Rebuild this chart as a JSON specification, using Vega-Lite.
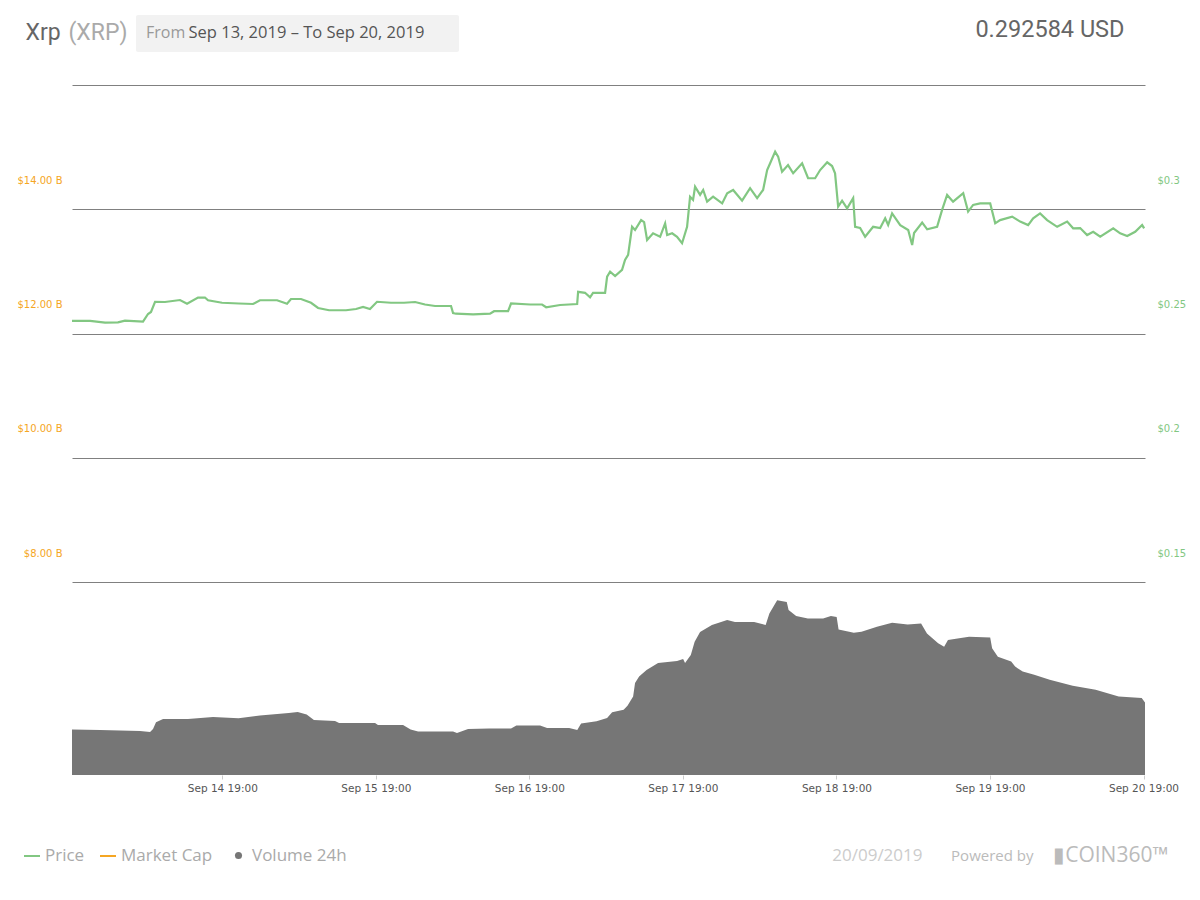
{
  "$schema": "https://vega.github.io/schema/vega-lite/v6.json",
  "width": 1073,
  "height": 725,
  "autosize": "none",
  "padding": {"left": 72, "top": 50, "right": 55, "bottom": 125},
  "background": "white",
  "config": {"view": {"stroke": null}, "font": "Open Sans"},
  "datasets": {
    "price": [
      {"t": "2019-09-13T19:30:00Z", "price": 0.2434},
      {"t": "2019-09-13T22:20:00Z", "price": 0.2434},
      {"t": "2019-09-14T00:40:00Z", "price": 0.2427},
      {"t": "2019-09-14T02:41:00Z", "price": 0.2428},
      {"t": "2019-09-14T03:47:00Z", "price": 0.2435},
      {"t": "2019-09-14T06:36:00Z", "price": 0.2431},
      {"t": "2019-09-14T07:23:00Z", "price": 0.2462},
      {"t": "2019-09-14T07:51:00Z", "price": 0.2470},
      {"t": "2019-09-14T08:29:00Z", "price": 0.2511},
      {"t": "2019-09-14T10:02:00Z", "price": 0.2510},
      {"t": "2019-09-14T12:23:00Z", "price": 0.2518},
      {"t": "2019-09-14T13:29:00Z", "price": 0.2503},
      {"t": "2019-09-14T15:12:00Z", "price": 0.2528},
      {"t": "2019-09-14T16:17:00Z", "price": 0.2528},
      {"t": "2019-09-14T16:46:00Z", "price": 0.2517},
      {"t": "2019-09-14T18:57:00Z", "price": 0.2507},
      {"t": "2019-09-14T21:36:00Z", "price": 0.2504},
      {"t": "2019-09-14T23:48:00Z", "price": 0.2502},
      {"t": "2019-09-15T00:53:00Z", "price": 0.2517},
      {"t": "2019-09-15T03:33:00Z", "price": 0.2517},
      {"t": "2019-09-15T05:07:00Z", "price": 0.2503},
      {"t": "2019-09-15T05:44:00Z", "price": 0.2522},
      {"t": "2019-09-15T07:18:00Z", "price": 0.2522},
      {"t": "2019-09-15T08:52:00Z", "price": 0.2507},
      {"t": "2019-09-15T09:58:00Z", "price": 0.2486},
      {"t": "2019-09-15T11:41:00Z", "price": 0.2477},
      {"t": "2019-09-15T14:20:00Z", "price": 0.2477},
      {"t": "2019-09-15T15:54:00Z", "price": 0.2482},
      {"t": "2019-09-15T17:00:00Z", "price": 0.2490},
      {"t": "2019-09-15T18:05:00Z", "price": 0.2482},
      {"t": "2019-09-15T19:11:00Z", "price": 0.2511},
      {"t": "2019-09-15T21:22:00Z", "price": 0.2507},
      {"t": "2019-09-15T23:24:00Z", "price": 0.2507},
      {"t": "2019-09-16T01:08:00Z", "price": 0.2510},
      {"t": "2019-09-16T02:41:00Z", "price": 0.2500},
      {"t": "2019-09-16T04:15:00Z", "price": 0.2494},
      {"t": "2019-09-16T06:45:00Z", "price": 0.2494},
      {"t": "2019-09-16T07:04:00Z", "price": 0.2466},
      {"t": "2019-09-16T07:32:00Z", "price": 0.2463},
      {"t": "2019-09-16T10:12:00Z", "price": 0.2460},
      {"t": "2019-09-16T12:51:00Z", "price": 0.2463},
      {"t": "2019-09-16T13:29:00Z", "price": 0.2473},
      {"t": "2019-09-16T15:40:00Z", "price": 0.2473},
      {"t": "2019-09-16T16:08:00Z", "price": 0.2504},
      {"t": "2019-09-16T19:07:00Z", "price": 0.2500},
      {"t": "2019-09-16T20:59:00Z", "price": 0.2500},
      {"t": "2019-09-16T21:37:00Z", "price": 0.2489},
      {"t": "2019-09-16T23:48:00Z", "price": 0.2498},
      {"t": "2019-09-17T02:28:00Z", "price": 0.2502},
      {"t": "2019-09-17T02:37:00Z", "price": 0.2551},
      {"t": "2019-09-17T03:42:00Z", "price": 0.2547},
      {"t": "2019-09-17T04:29:00Z", "price": 0.2529},
      {"t": "2019-09-17T04:57:00Z", "price": 0.2547},
      {"t": "2019-09-17T06:50:00Z", "price": 0.2547},
      {"t": "2019-09-17T07:09:00Z", "price": 0.2612},
      {"t": "2019-09-17T07:37:00Z", "price": 0.2632},
      {"t": "2019-09-17T08:24:00Z", "price": 0.2614},
      {"t": "2019-09-17T09:29:00Z", "price": 0.2639},
      {"t": "2019-09-17T09:57:00Z", "price": 0.2679},
      {"t": "2019-09-17T10:26:00Z", "price": 0.2699},
      {"t": "2019-09-17T11:03:00Z", "price": 0.2812},
      {"t": "2019-09-17T11:31:00Z", "price": 0.2799},
      {"t": "2019-09-17T12:28:00Z", "price": 0.2839},
      {"t": "2019-09-17T12:56:00Z", "price": 0.2831},
      {"t": "2019-09-17T13:24:00Z", "price": 0.2759},
      {"t": "2019-09-17T14:20:00Z", "price": 0.2786},
      {"t": "2019-09-17T15:26:00Z", "price": 0.2772},
      {"t": "2019-09-17T16:13:00Z", "price": 0.2826},
      {"t": "2019-09-17T16:32:00Z", "price": 0.2779},
      {"t": "2019-09-17T17:19:00Z", "price": 0.2786},
      {"t": "2019-09-17T18:05:00Z", "price": 0.2772},
      {"t": "2019-09-17T18:52:00Z", "price": 0.2746},
      {"t": "2019-09-17T19:39:00Z", "price": 0.2812},
      {"t": "2019-09-17T20:07:00Z", "price": 0.2933},
      {"t": "2019-09-17T20:35:00Z", "price": 0.2920},
      {"t": "2019-09-17T20:54:00Z", "price": 0.2973},
      {"t": "2019-09-17T21:41:00Z", "price": 0.2940},
      {"t": "2019-09-17T22:10:00Z", "price": 0.2960},
      {"t": "2019-09-17T22:47:00Z", "price": 0.2913},
      {"t": "2019-09-17T23:43:00Z", "price": 0.2933},
      {"t": "2019-09-18T01:08:00Z", "price": 0.2906},
      {"t": "2019-09-18T01:55:00Z", "price": 0.2947},
      {"t": "2019-09-18T02:51:00Z", "price": 0.2960},
      {"t": "2019-09-18T04:15:00Z", "price": 0.2917},
      {"t": "2019-09-18T05:30:00Z", "price": 0.2967},
      {"t": "2019-09-18T06:36:00Z", "price": 0.2927},
      {"t": "2019-09-18T07:32:00Z", "price": 0.2960},
      {"t": "2019-09-18T08:10:00Z", "price": 0.3040},
      {"t": "2019-09-18T08:38:00Z", "price": 0.3067},
      {"t": "2019-09-18T09:25:00Z", "price": 0.3114},
      {"t": "2019-09-18T09:53:00Z", "price": 0.3094},
      {"t": "2019-09-18T10:30:00Z", "price": 0.3033},
      {"t": "2019-09-18T11:26:00Z", "price": 0.3060},
      {"t": "2019-09-18T12:14:00Z", "price": 0.3027},
      {"t": "2019-09-18T13:38:00Z", "price": 0.3067},
      {"t": "2019-09-18T14:34:00Z", "price": 0.3007},
      {"t": "2019-09-18T15:40:00Z", "price": 0.3007},
      {"t": "2019-09-18T16:27:00Z", "price": 0.3040},
      {"t": "2019-09-18T17:33:00Z", "price": 0.3071},
      {"t": "2019-09-18T18:19:00Z", "price": 0.3056},
      {"t": "2019-09-18T18:47:00Z", "price": 0.3027},
      {"t": "2019-09-18T19:16:00Z", "price": 0.2893},
      {"t": "2019-09-18T19:53:00Z", "price": 0.2917},
      {"t": "2019-09-18T20:40:00Z", "price": 0.2886},
      {"t": "2019-09-18T21:37:00Z", "price": 0.2927},
      {"t": "2019-09-18T21:55:00Z", "price": 0.2812},
      {"t": "2019-09-18T22:42:00Z", "price": 0.2807},
      {"t": "2019-09-18T23:29:00Z", "price": 0.2772},
      {"t": "2019-09-19T00:44:00Z", "price": 0.2812},
      {"t": "2019-09-19T01:50:00Z", "price": 0.2807},
      {"t": "2019-09-19T02:37:00Z", "price": 0.2846},
      {"t": "2019-09-19T03:05:00Z", "price": 0.2819},
      {"t": "2019-09-19T03:42:00Z", "price": 0.2866},
      {"t": "2019-09-19T04:58:00Z", "price": 0.2819},
      {"t": "2019-09-19T06:13:00Z", "price": 0.2799},
      {"t": "2019-09-19T06:50:00Z", "price": 0.2739},
      {"t": "2019-09-19T07:08:00Z", "price": 0.2787},
      {"t": "2019-09-19T08:24:00Z", "price": 0.2829},
      {"t": "2019-09-19T09:11:00Z", "price": 0.2802},
      {"t": "2019-09-19T10:44:00Z", "price": 0.2812},
      {"t": "2019-09-19T11:31:00Z", "price": 0.2880},
      {"t": "2019-09-19T12:18:00Z", "price": 0.2940},
      {"t": "2019-09-19T13:14:00Z", "price": 0.2913},
      {"t": "2019-09-19T14:49:00Z", "price": 0.2947},
      {"t": "2019-09-19T15:35:00Z", "price": 0.2873},
      {"t": "2019-09-19T16:22:00Z", "price": 0.2900},
      {"t": "2019-09-19T17:28:00Z", "price": 0.2906},
      {"t": "2019-09-19T19:02:00Z", "price": 0.2906},
      {"t": "2019-09-19T19:49:00Z", "price": 0.2826},
      {"t": "2019-09-19T20:35:00Z", "price": 0.2839},
      {"t": "2019-09-19T22:28:00Z", "price": 0.2853},
      {"t": "2019-09-19T23:43:00Z", "price": 0.2833},
      {"t": "2019-09-20T00:58:00Z", "price": 0.2819},
      {"t": "2019-09-20T01:45:00Z", "price": 0.2846},
      {"t": "2019-09-20T02:50:00Z", "price": 0.2866},
      {"t": "2019-09-20T03:56:00Z", "price": 0.2839},
      {"t": "2019-09-20T05:30:00Z", "price": 0.2812},
      {"t": "2019-09-20T07:04:00Z", "price": 0.2833},
      {"t": "2019-09-20T08:00:00Z", "price": 0.2806},
      {"t": "2019-09-20T09:06:00Z", "price": 0.2807},
      {"t": "2019-09-20T10:11:00Z", "price": 0.2779},
      {"t": "2019-09-20T11:08:00Z", "price": 0.2792},
      {"t": "2019-09-20T12:14:00Z", "price": 0.2772},
      {"t": "2019-09-20T14:16:00Z", "price": 0.2806},
      {"t": "2019-09-20T15:21:00Z", "price": 0.2786},
      {"t": "2019-09-20T16:27:00Z", "price": 0.2775},
      {"t": "2019-09-20T17:42:00Z", "price": 0.2792},
      {"t": "2019-09-20T18:47:00Z", "price": 0.2819},
      {"t": "2019-09-20T19:06:00Z", "price": 0.2806}
    ],
    "volume": [
      {"t": "2019-09-13T19:30:00Z", "vol": 0.707},
      {"t": "2019-09-13T23:53:00Z", "vol": 0.700},
      {"t": "2019-09-14T06:08:00Z", "vol": 0.684},
      {"t": "2019-09-14T07:42:00Z", "vol": 0.668},
      {"t": "2019-09-14T08:10:00Z", "vol": 0.715},
      {"t": "2019-09-14T08:38:00Z", "vol": 0.819},
      {"t": "2019-09-14T09:44:00Z", "vol": 0.870},
      {"t": "2019-09-14T13:38:00Z", "vol": 0.870},
      {"t": "2019-09-14T17:33:00Z", "vol": 0.902},
      {"t": "2019-09-14T21:32:00Z", "vol": 0.881},
      {"t": "2019-09-15T00:53:00Z", "vol": 0.923},
      {"t": "2019-09-15T05:23:00Z", "vol": 0.964},
      {"t": "2019-09-15T06:47:00Z", "vol": 0.979},
      {"t": "2019-09-15T08:11:00Z", "vol": 0.939},
      {"t": "2019-09-15T09:19:00Z", "vol": 0.855},
      {"t": "2019-09-15T12:37:00Z", "vol": 0.839},
      {"t": "2019-09-15T13:15:00Z", "vol": 0.808},
      {"t": "2019-09-15T18:52:00Z", "vol": 0.808},
      {"t": "2019-09-15T19:20:00Z", "vol": 0.777},
      {"t": "2019-09-15T23:15:00Z", "vol": 0.777},
      {"t": "2019-09-16T00:26:00Z", "vol": 0.707},
      {"t": "2019-09-16T01:36:00Z", "vol": 0.676},
      {"t": "2019-09-16T07:04:00Z", "vol": 0.676},
      {"t": "2019-09-16T07:41:00Z", "vol": 0.653},
      {"t": "2019-09-16T09:25:00Z", "vol": 0.715},
      {"t": "2019-09-16T12:42:00Z", "vol": 0.723},
      {"t": "2019-09-16T16:08:00Z", "vol": 0.723},
      {"t": "2019-09-16T16:58:00Z", "vol": 0.768},
      {"t": "2019-09-16T20:40:00Z", "vol": 0.768},
      {"t": "2019-09-16T21:46:00Z", "vol": 0.731},
      {"t": "2019-09-17T01:13:00Z", "vol": 0.731},
      {"t": "2019-09-17T02:29:00Z", "vol": 0.699},
      {"t": "2019-09-17T03:05:00Z", "vol": 0.799},
      {"t": "2019-09-17T05:30:00Z", "vol": 0.835},
      {"t": "2019-09-17T07:09:00Z", "vol": 0.886},
      {"t": "2019-09-17T07:56:00Z", "vol": 0.975},
      {"t": "2019-09-17T09:44:00Z", "vol": 1.015},
      {"t": "2019-09-17T10:20:00Z", "vol": 1.077},
      {"t": "2019-09-17T11:13:00Z", "vol": 1.222},
      {"t": "2019-09-17T11:31:00Z", "vol": 1.430},
      {"t": "2019-09-17T12:09:00Z", "vol": 1.531},
      {"t": "2019-09-17T13:19:00Z", "vol": 1.632},
      {"t": "2019-09-17T15:07:00Z", "vol": 1.741},
      {"t": "2019-09-17T18:05:00Z", "vol": 1.772},
      {"t": "2019-09-17T19:02:00Z", "vol": 1.803},
      {"t": "2019-09-17T19:20:00Z", "vol": 1.741},
      {"t": "2019-09-17T20:14:00Z", "vol": 1.865},
      {"t": "2019-09-17T20:50:00Z", "vol": 2.072},
      {"t": "2019-09-17T21:41:00Z", "vol": 2.223},
      {"t": "2019-09-17T23:32:00Z", "vol": 2.332},
      {"t": "2019-09-18T01:55:00Z", "vol": 2.409},
      {"t": "2019-09-18T03:08:00Z", "vol": 2.378},
      {"t": "2019-09-18T06:08:00Z", "vol": 2.378},
      {"t": "2019-09-18T07:56:00Z", "vol": 2.332},
      {"t": "2019-09-18T08:31:00Z", "vol": 2.510},
      {"t": "2019-09-18T09:44:00Z", "vol": 2.717},
      {"t": "2019-09-18T11:14:00Z", "vol": 2.689},
      {"t": "2019-09-18T11:31:00Z", "vol": 2.565},
      {"t": "2019-09-18T12:42:00Z", "vol": 2.472},
      {"t": "2019-09-18T14:32:00Z", "vol": 2.433},
      {"t": "2019-09-18T16:55:00Z", "vol": 2.433},
      {"t": "2019-09-18T18:08:00Z", "vol": 2.472},
      {"t": "2019-09-18T19:02:00Z", "vol": 2.456},
      {"t": "2019-09-18T19:20:00Z", "vol": 2.263},
      {"t": "2019-09-18T21:43:00Z", "vol": 2.212},
      {"t": "2019-09-18T22:55:00Z", "vol": 2.227},
      {"t": "2019-09-19T01:20:00Z", "vol": 2.304},
      {"t": "2019-09-19T03:42:00Z", "vol": 2.366},
      {"t": "2019-09-19T06:08:00Z", "vol": 2.341},
      {"t": "2019-09-19T08:14:00Z", "vol": 2.355},
      {"t": "2019-09-19T09:09:00Z", "vol": 2.201},
      {"t": "2019-09-19T10:54:00Z", "vol": 2.047},
      {"t": "2019-09-19T11:50:00Z", "vol": 1.994},
      {"t": "2019-09-19T12:26:00Z", "vol": 2.098},
      {"t": "2019-09-19T13:56:00Z", "vol": 2.123},
      {"t": "2019-09-19T15:44:00Z", "vol": 2.150},
      {"t": "2019-09-19T19:02:00Z", "vol": 2.139},
      {"t": "2019-09-19T19:20:00Z", "vol": 1.969},
      {"t": "2019-09-19T20:14:00Z", "vol": 1.840},
      {"t": "2019-09-19T22:19:00Z", "vol": 1.763},
      {"t": "2019-09-19T22:56:00Z", "vol": 1.685},
      {"t": "2019-09-20T00:07:00Z", "vol": 1.609},
      {"t": "2019-09-20T01:55:00Z", "vol": 1.557},
      {"t": "2019-09-20T04:20:00Z", "vol": 1.480},
      {"t": "2019-09-20T07:56:00Z", "vol": 1.387},
      {"t": "2019-09-20T11:31:00Z", "vol": 1.324},
      {"t": "2019-09-20T15:07:00Z", "vol": 1.222},
      {"t": "2019-09-20T18:43:00Z", "vol": 1.197},
      {"t": "2019-09-20T19:14:00Z", "vol": 1.128}
    ]
  },
  "resolve": {"scale": {"x": "independent", "y": "independent"}},
  "layer": [
    {
      "data": {"name": "volume"},
      "mark": {"type": "area", "color": "#767676", "clip": true},
      "encoding": {
        "x": {
          "field": "t",
          "type": "temporal",
          "scale": {
            "type": "utc",
            "domain": [
              {"year": 2019, "month": 9, "date": 13, "hours": 19, "minutes": 30, "utc": true},
              {"year": 2019, "month": 9, "date": 20, "hours": 19, "minutes": 14, "utc": true}
            ]
          },
          "axis": {
            "orient": "top",
            "labels": false,
            "ticks": false,
            "domain": false,
            "grid": false,
            "title": "Powered by",
            "titleX": 961,
            "titleY": 805,
            "titleAlign": "right",
            "titleBaseline": "middle",
            "titleFont": "Open Sans",
            "titleFontSize": 15,
            "titleFontWeight": "normal",
            "titleColor": "#bbbbbb"
          }
        },
        "y": {
          "field": "vol",
          "type": "quantitative",
          "scale": {"domain": [0, 11.2694]},
          "axis": {
            "orient": "left",
            "labels": false,
            "ticks": false,
            "domain": false,
            "grid": false,
            "title": "(XRP)",
            "titleX": -4,
            "titleY": -18,
            "titleAngle": 0,
            "titleAlign": "left",
            "titleBaseline": "middle",
            "titleFont": "Roboto",
            "titleFontSize": 23,
            "titleFontWeight": "normal",
            "titleColor": "#aaaaaa"
          }
        },
        "opacity": {
          "datum": "Volume 24h",
          "type": "ordinal",
          "scale": {"range": [1]},
          "legend": {
            "orient": "none",
            "legendX": 158,
            "legendY": 797,
            "title": null,
            "padding": 0,
            "symbolType": "circle",
            "symbolSize": 50,
            "symbolFillColor": "#767676",
            "symbolStrokeWidth": 0,
            "labelFont": "Open Sans",
            "labelFontSize": 17,
            "labelColor": "#aaaaaa",
            "labelOffset": 5
          }
        }
      }
    },
    {
      "data": {"name": "price"},
      "mark": {"type": "line", "strokeWidth": 2, "strokeOpacity": 0},
      "encoding": {
        "x": {
          "field": "t",
          "type": "temporal",
          "scale": {
            "type": "utc",
            "domain": [
              {"year": 2019, "month": 9, "date": 13, "hours": 19, "minutes": 30, "utc": true},
              {"year": 2019, "month": 9, "date": 20, "hours": 19, "minutes": 14, "utc": true}
            ]
          },
          "axis": {
            "orient": "top",
            "labels": false,
            "ticks": false,
            "domain": false,
            "grid": false,
            "title": "▮COIN360™",
            "titleX": 1096,
            "titleY": 805,
            "titleAlign": "right",
            "titleBaseline": "middle",
            "titleFont": "Open Sans",
            "titleFontSize": 21,
            "titleFontWeight": "normal",
            "titleColor": "#bbbbbb"
          }
        },
        "y": {
          "field": "price",
          "type": "quantitative",
          "scale": {"domain": [0.061044, 0.352209]},
          "axis": {
            "orient": "left",
            "values": [0.3, 0.25, 0.2, 0.15],
            "labelExpr": "'$' + format(14 + (datum.value - 0.3) * 40, '.2f') + ' B'",
            "grid": false,
            "ticks": false,
            "domain": false,
            "labelFont": "DejaVu Sans",
            "labelFontSize": 10,
            "labelColor": "#f5a623",
            "labelPadding": 10,
            "title": "Xrp",
            "titleX": -47,
            "titleY": -18,
            "titleAngle": 0,
            "titleAlign": "left",
            "titleBaseline": "middle",
            "titleFont": "Roboto",
            "titleFontSize": 23,
            "titleFontWeight": "normal",
            "titleColor": "#666666"
          }
        },
        "color": {
          "datum": "Market Cap",
          "type": "nominal",
          "scale": {"domain": ["Price", "Market Cap"], "range": ["#82c782", "#f5a623"]},
          "legend": {
            "orient": "none",
            "legendX": -49,
            "legendY": 797,
            "direction": "horizontal",
            "title": null,
            "padding": 0,
            "symbolType": "stroke",
            "symbolSize": 256,
            "symbolStrokeWidth": 2,
            "symbolOpacity": 1,
            "labelFont": "Open Sans",
            "labelFontSize": 17,
            "labelColor": "#aaaaaa",
            "labelOffset": 4,
            "columnPadding": 11
          }
        },
        "strokeDash": {
          "datum": "Sep 13, 2019 – To Sep 20, 2019\u2800\u2800",
          "type": "nominal",
          "scale": {"range": [[1, 0]]},
          "legend": {
            "orient": "none",
            "legendX": 64,
            "legendY": -35,
            "title": "From",
            "titleOrient": "left",
            "titleFont": "Open Sans",
            "titleFontSize": 16,
            "titleFontWeight": "normal",
            "titleColor": "#999999",
            "titlePadding": 5,
            "fillColor": "#f2f2f2",
            "padding": 10,
            "cornerRadius": 2,
            "symbolSize": 0,
            "symbolOpacity": 0,
            "symbolStrokeWidth": 0,
            "labelOffset": -19,
            "labelLimit": 0,
            "labelFont": "Open Sans",
            "labelFontSize": 16.5,
            "labelColor": "#555555"
          }
        }
      }
    },
    {
      "data": {"name": "price"},
      "mark": {"type": "line", "strokeWidth": 2.2, "clip": true},
      "encoding": {
        "x": {
          "field": "t",
          "type": "temporal",
          "scale": {
            "type": "utc",
            "domain": [
              {"year": 2019, "month": 9, "date": 13, "hours": 19, "minutes": 30, "utc": true},
              {"year": 2019, "month": 9, "date": 20, "hours": 19, "minutes": 14, "utc": true}
            ]
          },
          "axis": {
            "orient": "bottom",
            "values": [
              {"year": 2019, "month": 9, "date": 14, "hours": 19, "utc": true},
              {"year": 2019, "month": 9, "date": 15, "hours": 19, "utc": true},
              {"year": 2019, "month": 9, "date": 16, "hours": 19, "utc": true},
              {"year": 2019, "month": 9, "date": 17, "hours": 19, "utc": true},
              {"year": 2019, "month": 9, "date": 18, "hours": 19, "utc": true},
              {"year": 2019, "month": 9, "date": 19, "hours": 19, "utc": true},
              {"year": 2019, "month": 9, "date": 20, "hours": 19, "utc": true}
            ],
            "format": "%b %d %H:%M",
            "labelFont": "DejaVu Sans",
            "labelFontSize": 10.5,
            "labelColor": "#555555",
            "labelPadding": 4,
            "labelFlush": false,
            "tickSize": 4,
            "tickColor": "#cccccc",
            "domain": false,
            "grid": false,
            "title": "20/09/2019",
            "titleX": 850,
            "titleY": 80,
            "titleAlign": "right",
            "titleBaseline": "middle",
            "titleFont": "Open Sans",
            "titleFontSize": 17,
            "titleFontWeight": "normal",
            "titleColor": "#cccccc"
          }
        },
        "y": {
          "field": "price",
          "type": "quantitative",
          "scale": {"domain": [0.061044, 0.352209]},
          "axis": {
            "orient": "right",
            "values": [0.35, 0.3, 0.25, 0.2, 0.15],
            "tickOffset": 29,
            "labelOffset": -29,
            "labelExpr": "datum.value > 0.32 ? '' : '$' + format(datum.value, '~g')",
            "grid": true,
            "gridColor": "#808080",
            "gridWidth": 1,
            "ticks": false,
            "domain": false,
            "labelFont": "DejaVu Sans",
            "labelFontSize": 10,
            "labelColor": "#82c782",
            "labelPadding": 12,
            "title": "0.292584 USD",
            "titleX": -21,
            "titleY": -21,
            "titleAngle": 0,
            "titleAlign": "right",
            "titleBaseline": "middle",
            "titleFont": "Roboto",
            "titleFontSize": 23.5,
            "titleFontWeight": "normal",
            "titleColor": "#666666"
          }
        },
        "color": {
          "datum": "Price",
          "type": "nominal",
          "scale": {"domain": ["Price", "Market Cap"], "range": ["#82c782", "#f5a623"]}
        }
      }
    }
  ]
}
